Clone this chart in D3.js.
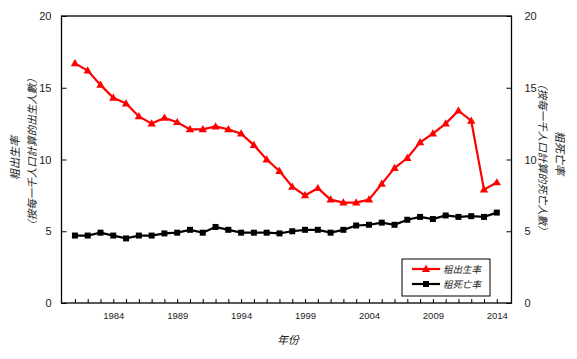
<!DOCTYPE html>
<html><head><meta charset="utf-8">
<script src="https://cdn.jsdelivr.net/npm/d3@7"></script>
<style>body{margin:0;background:#fff}</style>
</head><body>
<svg id="c" width="577" height="359"></svg>
<script>
const years = d3.range(1981, 2015);
const birthRate = [16.7,16.2,15.2,14.3,13.9,13.0,12.5,12.9,12.6,12.1,12.1,12.3,12.1,11.8,11.0,10.0,9.2,8.1,7.5,8.0,7.2,7.0,7.0,7.2,8.3,9.4,10.1,11.2,11.8,12.5,13.4,12.7,7.9,8.4];
const deathRate = [4.7,4.7,4.9,4.7,4.5,4.7,4.7,4.85,4.9,5.1,4.9,5.3,5.1,4.9,4.9,4.9,4.85,5.0,5.1,5.1,4.9,5.1,5.4,5.45,5.6,5.45,5.8,6.0,5.85,6.1,6.0,6.05,6.0,6.3];
const xTickLabels = [1984,1989,1994,1999,2004,2009,2014];
const yTicks = [0,5,10,15,20];
const seriesNames = ["粗出生率","粗死亡率"];

const svg = d3.select("#c");
const L=61.5, R=511.5, T=16, B=303;
const x = d3.scaleLinear().domain([1979.95, 2015.15]).range([L, R]);
const y = d3.scaleLinear().domain([0,20]).range([B, T]);

const font = "'Liberation Sans', Arial, sans-serif";
const cjk = "'Noto Sans CJK TC','Noto Sans CJK SC',sans-serif";

// frame
svg.append("rect").attr("x",L).attr("y",T).attr("width",R-L).attr("height",B-T)
  .attr("fill","none").attr("stroke","#000").attr("stroke-width",1.3);

// left axis
const gl = svg.append("g").attr("transform",`translate(${L},0)`)
  .call(d3.axisLeft(y).tickValues(yTicks).tickSize(-5).tickPadding(10));
gl.select(".domain").remove();
gl.selectAll("text").attr("font-family",font).attr("font-size",11).attr("fill","#222");
gl.selectAll("line").attr("stroke","#000");

// right axis
const gr = svg.append("g").attr("transform",`translate(${R},0)`)
  .call(d3.axisRight(y).tickValues(yTicks).tickSize(-5).tickPadding(13));
gr.select(".domain").remove();
gr.selectAll("text").attr("font-family",font).attr("font-size",11).attr("fill","#222");
gr.selectAll("line").attr("stroke","#000");

// bottom axis: ticks every year, labels at selected years
const gb = svg.append("g").attr("transform",`translate(0,${B})`)
  .call(d3.axisBottom(x).tickValues(years).tickSize(-4).tickPadding(9)
    .tickFormat(d => xTickLabels.includes(d) ? d : ""));
gb.select(".domain").remove();
gb.selectAll("text").attr("font-family",font).attr("font-size",9.5).attr("fill","#222");
gb.selectAll("line").attr("stroke","#000");

// lines
const line = d3.line().x((d,i)=>x(years[i])).y(d=>y(d));
svg.append("path").datum(deathRate).attr("d",line).attr("fill","none")
  .attr("stroke","#000").attr("stroke-width",2.2);
svg.append("path").datum(birthRate).attr("d",line).attr("fill","none")
  .attr("stroke","#f00").attr("stroke-width",2.2);

const tri = d3.symbol().type(d3.symbolTriangle).size(30);
const sq = d3.symbol().type(d3.symbolSquare).size(36);
svg.append("g").selectAll("path").data(deathRate).join("path")
  .attr("d",sq).attr("fill","#000")
  .attr("transform",(d,i)=>`translate(${x(years[i])},${y(d)})`);
svg.append("g").selectAll("path").data(birthRate).join("path")
  .attr("d",tri).attr("fill","#f00")
  .attr("transform",(d,i)=>`translate(${x(years[i])},${y(d)+0.5})`);

// axis titles
svg.append("text").attr("transform","translate(19,158) rotate(-90)")
  .attr("text-anchor","middle").attr("font-family",cjk).attr("font-size",11)
  .attr("font-style","italic").attr("fill","#222").text("粗出生率");
svg.append("text").attr("transform","translate(36,152) rotate(-90)")
  .attr("text-anchor","middle").attr("font-family",cjk).attr("font-size",10.5)
  .attr("font-style","italic").attr("fill","#222").text("（按每一千人口計算的出生人數）");
svg.append("text").attr("transform","translate(539,157) rotate(90)")
  .attr("text-anchor","middle").attr("font-family",cjk).attr("font-size",10.5)
  .attr("font-style","italic").attr("fill","#222").text("（按每一千人口計算的死亡人數）");
svg.append("text").attr("transform","translate(556,153) rotate(90)")
  .attr("text-anchor","middle").attr("font-family",cjk).attr("font-size",11)
  .attr("font-style","italic").attr("fill","#222").text("粗死亡率");
svg.append("text").attr("x",288).attr("y",344).attr("text-anchor","middle")
  .attr("font-family",cjk).attr("font-size",11).attr("font-style","italic")
  .attr("fill","#222").text("年份");

// legend
const lg = svg.append("g");
lg.append("rect").attr("x",402).attr("y",259).attr("width",88).attr("height",37)
  .attr("fill","#fff").attr("stroke","#000").attr("stroke-width",1);
const colors = ["#f00","#000"], syms=[tri,sq];
seriesNames.forEach((n,i)=>{
  const yy = 269 + i*15;
  lg.append("line").attr("x1",412).attr("x2",440).attr("y1",yy).attr("y2",yy)
    .attr("stroke",colors[i]).attr("stroke-width",2.2);
  lg.append("path").attr("d",syms[i]).attr("fill",colors[i])
    .attr("transform",`translate(426,${yy+(i==0?0.5:0)})`);
  lg.append("text").attr("x",443).attr("y",yy+3.5).attr("font-family",cjk)
    .attr("font-size",9.5).attr("font-style","italic").attr("fill","#222").text(n);
});
</script>
</body></html>
